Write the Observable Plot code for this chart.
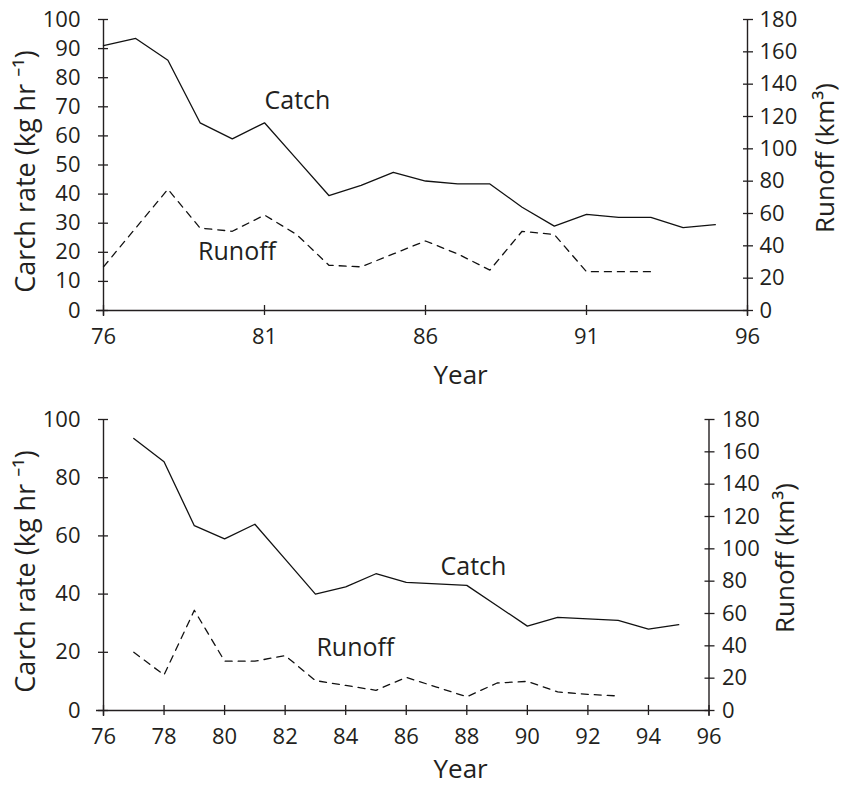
<!DOCTYPE html>
<html><head><meta charset="utf-8">
<script src="https://cdn.jsdelivr.net/npm/d3@7"></script>
<script src="https://cdn.jsdelivr.net/npm/@observablehq/plot@0.6"></script>
<style>
body{margin:0;background:#fff}
#c{width:843px;height:787px;overflow:hidden}
#c svg{display:block}
</style></head><body><div id="c"></div>
<script>
// ---- Top panel data ----
const catchYearsTop = [76,77,78,79,80,81,82,83,84,85,86,87,88,89,90,91,92,93,94,95];
const catchTop      = [91,93.5,86,64.5,59,64.5,52,39.5,43,47.5,44.5,43.5,43.5,35.5,29,33,32,32,28.5,29.5];
const runoffYearsTop = [76,77,78,79,80,81,82,83,84,85,86,87,88,89,90,91,92,93];
const runoffTop      = [27,51,75,51,49,59,47,28,27,35,43,35,25,49,47,24,24,24];
const xTicksTop = [76,81,86,91,96];
const leftTicksTop = [0,10,20,30,40,50,60,70,80,90,100];

// ---- Bottom panel data ----
const catchYearsBottom = [77,78,79,80,81,82,83,84,85,86,87,88,89,90,91,92,93,94,95];
const catchBottom      = [93.5,85.5,63.5,59,64,52,40,42.5,47,44,43.5,43,36,29,32,31.5,31,28,29.5];
const runoffYearsBottom = [77,78,79,80,81,82,83,84,85,86,87,88,89,90,91,92,93];
const runoffBottom      = [36,22,62,30.5,30.5,34,18.5,15.5,12.5,20.5,14.5,8.5,17,18,11.5,10,9];
const xTicksBottom = [76,78,80,82,84,86,88,90,92,94,96];
const leftTicksBottom = [0,20,40,60,80,100];

// ---- Shared ----
const rightTicks = [0,20,40,60,80,100,120,140,160,180];
const xDomain = [76,96];
const catchDomain = [0,100];
const runoffMax = 180;
const leftTitle = "Carch rate (kg hr \u207B\u00B9)";
const rightTitle = "Runoff (km\u00B3)";
const xTitle = "Year";
const labelsTop = [{text:"Catch", series:"catch", year:81}, {text:"Runoff", series:"runoff", year:79}];
const labelsBottom = [{text:"Catch", series:"catch", year:87}, {text:"Runoff", series:"runoff", year:83}];

const FONT = "'Open Sans', 'Noto Sans', sans-serif";
const INK = "#231f20";

function chart(o) {
  const k = catchDomain[1] / runoffMax;
  const catchData = o.catchYears.map((x,i)=>({x, y:o.catchVals[i]}));
  const runoffData = o.runoffYears.map((x,i)=>({x, y:o.runoffVals[i]*k}));
  const lab = o.labels.map((l,i)=>{
    const src = l.series === "catch" ? catchData : runoffData;
    const p = src.find(d=>d.x===l.year);
    return {text:l.text, x:p.x, y:p.y, dx:o.labelOffsets[i][0], dy:o.labelOffsets[i][1]};
  });
  return Plot.plot({
    width: 843, height: o.height,
    marginTop: o.marginTop, marginBottom: o.marginBottom,
    marginLeft: 103, marginRight: o.marginRight,
    style: {fontFamily: FONT, fontSize: "22px", color: INK, background: "white"},
    x: {domain: xDomain},
    y: {domain: catchDomain},
    marks: [
      Plot.axisX(o.xTicks, {tickSize: 10, dy: -5, tickPadding: 13, label: null, stroke: INK, strokeWidth: 1.3, fontSize: 22}),
      Plot.axisY(o.leftTicks, {anchor: "left", tickSize: 10, dx: 5, tickPadding: 18, label: null, stroke: INK, strokeWidth: 1.3, fontSize: 22}),
      Plot.axisY(rightTicks.map(t=>t*k), {anchor: "right", tickSize: 10, dx: -5, tickPadding: o.rightPad, tickFormat: d=>String(Math.round(d/k)), label: null, stroke: INK, strokeWidth: 1.3, fontSize: 22}),
      Plot.ruleY([catchDomain[0]], {stroke: INK, strokeWidth: 1.4, insetLeft: -7}),
      Plot.ruleX(xDomain, {stroke: INK, strokeWidth: 1.4, insetBottom: -6}),
      Plot.line(catchData, {x:"x", y:"y", stroke:"#111", strokeWidth:1.3}),
      Plot.line(runoffData, {x:"x", y:"y", stroke:"#111", strokeWidth:1.3, strokeDasharray:"7,6"}),
      ...lab.map(l => Plot.text([l], {x:"x", y:"y", text:"text", dx:l.dx, dy:l.dy, textAnchor:"start", lineAnchor:"middle", fontSize:25, fill:INK})),
      Plot.text([leftTitle], {frameAnchor:"left", rotate:-90, dx:-88, dy:6.5, textAnchor:"middle", lineAnchor:"top", fontSize:27, fill:INK}),
      Plot.text([rightTitle], {frameAnchor:"right", rotate:-90, dx:o.rightTitleDx, dy:-7, textAnchor:"middle", lineAnchor:"top", fontSize:26, fill:INK}),
      Plot.text([xTitle], {frameAnchor:"bottom-left", dx: 330, dy: o.yearDy, textAnchor:"start", lineAnchor:"top", fontSize:26, fill:INK})
    ]
  });
}

const c = document.getElementById("c");
c.appendChild(chart({
  catchYears: catchYearsTop, catchVals: catchTop,
  runoffYears: runoffYearsTop, runoffVals: runoffTop,
  xTicks: xTicksTop, leftTicks: leftTicksTop,
  height: 395, marginTop: 19, marginBottom: 85, marginRight: 96,
  rightPad: 7, rightTitleDx: 68, yearDy: 55,
  labels: labelsTop, labelOffsets: [[0,-22],[-2,24]]
}));
c.appendChild(chart({
  catchYears: catchYearsBottom, catchVals: catchBottom,
  runoffYears: runoffYearsBottom, runoffVals: runoffBottom,
  xTicks: xTicksBottom, leftTicks: leftTicksBottom,
  height: 392, marginTop: 24, marginBottom: 77, marginRight: 134.5,
  rightPad: 8, rightTitleDx: 66.5, yearDy: 49,
  labels: labelsBottom, labelOffsets: [[4,-17],[1,-33]]
}));
</script></body></html>
